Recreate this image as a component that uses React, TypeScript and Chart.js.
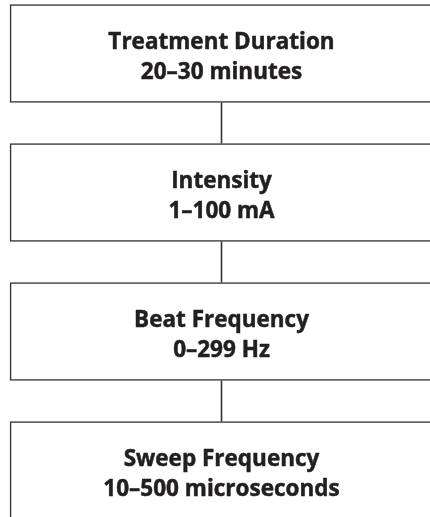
import React, { useEffect, useRef } from "react";
import { Chart, registerables } from "chart.js";

Chart.register(...registerables);

const steps: string[] = ["Treatment Duration", "Intensity", "Beat Frequency", "Sweep Frequency"];
const ranges: string[] = ["20–30 minutes", "1–100 mA", "0–299 Hz", "10–500 microseconds"];
const stepIndex: number[] = [0, 1, 2, 3];
const boxExtent: [number, number] = [-1, 1];

const LINE = "#333333";
const TEXT = "#231f20";
const HALF = 0.3525;

const textPlugin = {
  id: "flowText",
  afterDatasetsDraw(chart: any) {
    const { ctx, scales } = chart;
    const xs = scales.x;
    const ys = scales.y;
    ctx.save();
    ctx.fillStyle = TEXT;
    ctx.strokeStyle = TEXT;
    ctx.lineWidth = 0.5;
    ctx.lineJoin = "round";
    ctx.textAlign = "center";
    ctx.textBaseline = "alphabetic";
    ctx.font = "bold 22.5px 'Open Sans'";
    stepIndex.forEach((i) => {
      const cx = xs.getPixelForValue(0);
      const cy = ys.getPixelForValue(i);
      const lines: [string, number][] = [
        [steps[i], cy - 5],
        [ranges[i], cy + 25],
      ];
      lines.forEach(([t, y]) => {
        ctx.fillText(t, cx, y);
        ctx.strokeText(t, cx, y);
      });
    });
    ctx.restore();
  },
};

export default function App() {
  const ref = useRef<HTMLCanvasElement>(null);
  useEffect(() => {
    document.body.style.margin = "0";
    const connectors = stepIndex.slice(0, -1).map((i) => ({
      type: "line" as const,
      data: [
        { x: 0, y: i + HALF },
        { x: 0, y: i + 1 - HALF },
      ],
      borderColor: LINE,
      borderWidth: 1.6,
      pointRadius: 0,
      fill: false,
    }));
    const chart = new Chart(ref.current!, {
      type: "bar",
      data: {
        datasets: [
          {
            type: "bar",
            data: stepIndex.map((i) => ({ x: boxExtent, y: i })) as any,
            backgroundColor: "#ffffff",
            borderColor: LINE,
            borderWidth: 1.6,
            borderSkipped: false,
            barThickness: 98,
          } as any,
          ...(connectors as any),
        ],
      },
      options: {
        indexAxis: "y",
        animation: false,
        responsive: true,
        maintainAspectRatio: false,
        layout: { padding: 0 },
        plugins: { legend: { display: false }, tooltip: { enabled: false } },
        scales: {
          x: { type: "linear", display: false, offset: false, min: -1.0473, max: 0.9858 },
          y: { type: "linear", display: false, offset: false, min: -0.385, max: 3.3345, reverse: true },
        },
      },
      plugins: [textPlugin],
    });
    return () => chart.destroy();
  }, []);
  return (
    <div style={{ position: "absolute", left: 0, top: 0, width: 430, height: 517, background: "#fff" }}>
      <canvas ref={ref} />
    </div>
  );
}
